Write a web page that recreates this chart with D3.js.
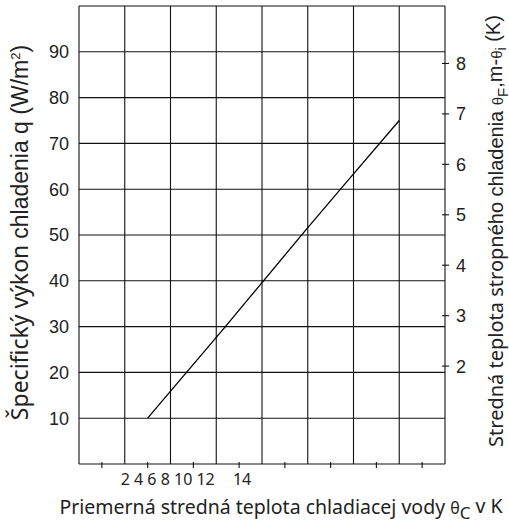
<!DOCTYPE html>
<html>
<head>
<meta charset="utf-8">
<script src="https://cdn.jsdelivr.net/npm/d3@7"></script>
<style>
  body { margin: 0; background: #fff; }
  svg { display: block; }
</style>
</head>
<body>
<div id="chart"></div>
<script>
// values
const lineX = [3, 4.7, 6.4, 9.9, 11.6, 14]        // position along x axis (grid units)
const lineQ = [10, 20, 30, 51, 61, 75]            // specific cooling output q (W/m²)
const qTicks = [10, 20, 30, 40, 50, 60, 70, 80, 90]
const kTicks = [2, 3, 4, 5, 6, 7, 8]
const xGrid = [0, 2, 4, 6, 8, 10, 12, 14, 16]
const xMinorTicks = [1, 3, 5, 7, 9, 11, 13, 15]
const xLabelsLeft = ['2', '4', '6', '8', '10', '12']
const xLabelRight = '14'

const W = 509
const H = 526
const m = { l: 79, r: 445, t: 6, b: 464 }

const svg = d3.select('#chart').append('svg')
  .attr('width', W).attr('height', H)

const x = d3.scaleLinear().domain([0, 16]).range([m.l, m.r])
const y = d3.scaleLinear().domain([0, 100]).range([m.b, m.t])
const yR = d3.scaleLinear().domain([0, 9]).range([467, 13])

const sans = 'Liberation Sans, Arial, sans-serif'
const noto = 'Noto Sans, Open Sans, sans-serif'

// grid
svg.append('g').selectAll('line').data(xGrid).enter().append('line')
  .attr('x1', d => x(d)).attr('x2', d => x(d))
  .attr('y1', y(100)).attr('y2', y(0))
  .attr('stroke', '#111').attr('stroke-width', 1.1)

svg.append('g').selectAll('line').data([0].concat(qTicks, [100])).enter().append('line')
  .attr('x1', x(0)).attr('x2', x(16))
  .attr('y1', d => y(d)).attr('y2', d => y(d))
  .attr('stroke', '#111').attr('stroke-width', 1.1)

// left tick labels
svg.append('g').selectAll('text').data(qTicks).enter().append('text')
  .attr('x', 69).attr('y', d => y(d))
  .attr('dy', '0.36em')
  .attr('text-anchor', 'end')
  .style('font-family', sans).style('font-size', '18px').style('fill', '#222')
  .text(d => d)

// bottom small ticks
svg.append('g').selectAll('line').data(xMinorTicks).enter().append('line')
  .attr('x1', d => x(d)).attr('x2', d => x(d))
  .attr('y1', y(0) - 2).attr('y2', y(0) + 4)
  .attr('stroke', '#111').attr('stroke-width', 1.1)

// bottom labels
svg.append('text')
  .attr('x', x(2) - 4).attr('y', 485)
  .style('font-family', noto).style('font-size', '16px').style('fill', '#222')
  .text(xLabelsLeft.join(' '))
svg.append('text')
  .attr('x', x(7) + 3).attr('y', 485)
  .attr('text-anchor', 'middle')
  .style('font-family', noto).style('font-size', '16px').style('fill', '#222')
  .text(xLabelRight)

// right axis
const rAxis = svg.append('g')
rAxis.selectAll('line').data(kTicks).enter().append('line')
  .attr('x1', m.r - 3).attr('x2', m.r + 4)
  .attr('y1', d => yR(d)).attr('y2', d => yR(d))
  .attr('stroke', '#111').attr('stroke-width', 1.1)
rAxis.selectAll('text').data(kTicks).enter().append('text')
  .attr('x', 456).attr('y', d => yR(d))
  .attr('dy', '0.36em')
  .style('font-family', sans).style('font-size', '18px').style('fill', '#222')
  .text(d => d)

// curve
const pts = lineX.map((d, i) => [d, lineQ[i]])
svg.append('path').datum(pts)
  .attr('d', d3.line().x(d => x(d[0])).y(d => y(d[1])))
  .attr('fill', 'none').attr('stroke', '#000').attr('stroke-width', 1.3)

// y title (left)
const yt = svg.append('text')
  .attr('transform', 'translate(28,' + ((447 + 18) / 2) + ') rotate(-90)')
  .attr('text-anchor', 'middle')
  .style('font-size', '23px').style('fill', '#222')
yt.append('tspan').style('font-family', noto).text('Špecifický výkon ')
yt.append('tspan').style('font-family', sans).text('chladenia q (W/m')
yt.append('tspan').style('font-family', sans).style('font-size', '13px').attr('dy', '-0.6em').text('2')
yt.append('tspan').style('font-family', sans).attr('dy', '0.35em').text(')')

// right title
const rt = svg.append('text')
  .attr('transform', 'translate(503,' + ((447 + 15) / 2) + ') rotate(-90)')
  .attr('text-anchor', 'middle')
  .style('font-size', '20px').style('fill', '#222')
rt.append('tspan').style('font-family', noto).text('Stredná teplota stropn')
rt.append('tspan').style('font-family', sans).text('ého chladenia ')
rt.append('tspan').style('font-family', sans).style('font-size', '15px').text('θ')
rt.append('tspan').style('font-family', sans).style('font-size', '15px').attr('dy', '0.3em').text('F')
rt.append('tspan').style('font-family', sans).attr('dy', '-0.3em').text(',m-')
rt.append('tspan').style('font-family', sans).style('font-size', '15px').text('θ')
rt.append('tspan').style('font-family', sans).style('font-size', '14px').attr('dy', '0.3em').text('i')
rt.append('tspan').style('font-family', sans).attr('dy', '-0.3em').text(' (K)')

// x title
const xt = svg.append('text')
  .attr('x', 281).attr('y', 514)
  .attr('text-anchor', 'middle')
  .style('font-family', noto).style('font-size', '19.5px').style('fill', '#222')
xt.append('tspan').text('Priemerná stredná teplota chladiacej vody ')
xt.append('tspan').style('font-size', '16px').text('θ')
xt.append('tspan').style('font-size', '17px').attr('dy', '0.3em').text('C')
xt.append('tspan').attr('dy', '-0.3em').text(' v K')
</script>
</body>
</html>
